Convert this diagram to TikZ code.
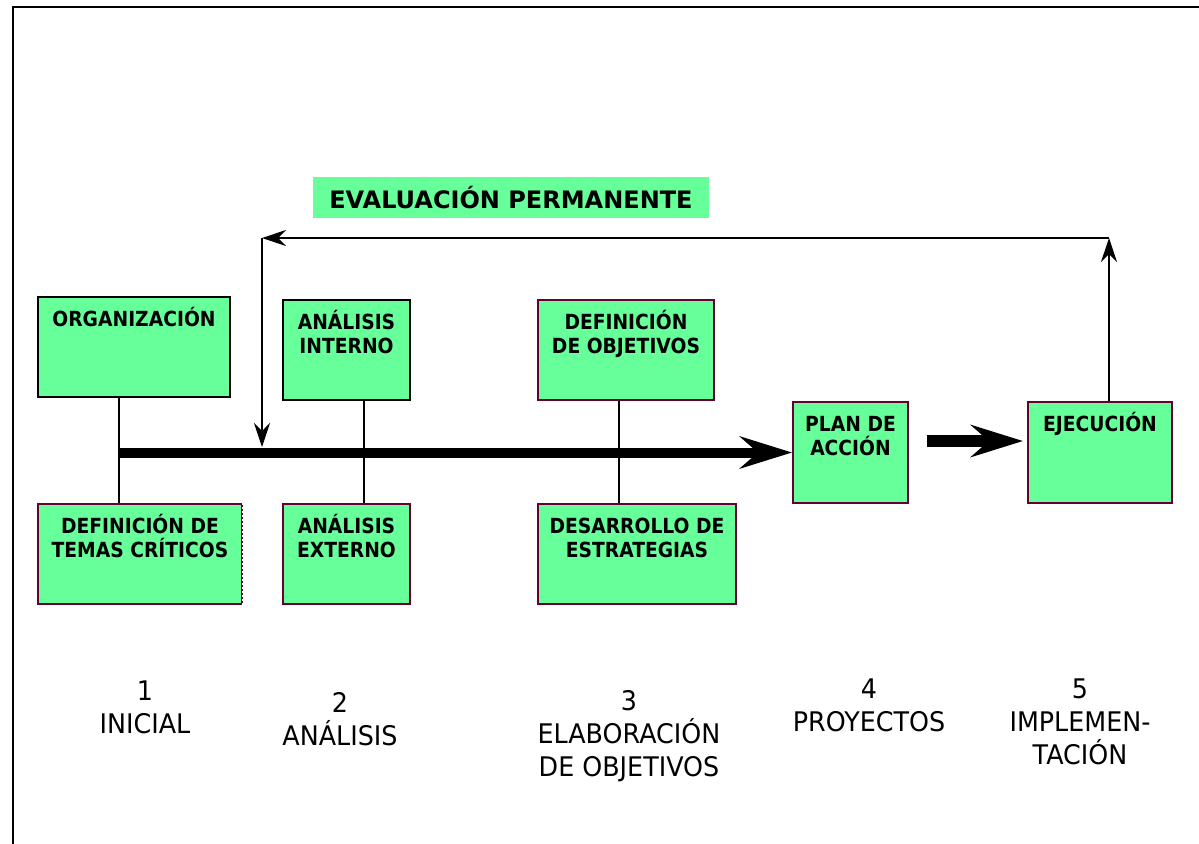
\documentclass[tikz,border=0pt]{standalone}
\usepackage{fontspec}
\setmainfont{DejaVu Sans}
\newfontfamily\boxfont{DejaVu Sans}[FakeStretch=0.9]
\newfontfamily\stagefont{DejaVu Sans}[FakeStretch=0.94]
\usetikzlibrary{arrows.meta,positioning}
\definecolor{boxgreen}{HTML}{66FF99}
\definecolor{boxedge}{HTML}{660033}
\newcommand\tallcap{\vphantom{Á}}

\begin{document}
\begin{tikzpicture}[x=0.5pt, y=-0.5pt,
    phase/.style={rectangle, draw=boxedge, line width=1pt, fill=boxgreen, inner sep=0pt, minimum height=50pt},
    phasetext/.style={align=center, inner sep=0pt, font=\boxfont\fontsize{10.4}{12}\selectfont\bfseries},
    stage/.style={align=center, inner sep=0pt, anchor=north, font=\stagefont\fontsize{13.5}{16.5}\selectfont},
    link/.style={line width=1pt},
    arrow/.style={-{Stealth[length=12pt, width=8pt, inset=4pt]}, line width=1pt},
    flow/.style={-{Stealth[length=26pt, width=16pt, inset=9pt]}, line width=5pt}
]
\useasboundingbox (0,0) rectangle (1199,843);

% Frame
\draw[line width=1pt] (13,7) rectangle (1220,860);

% Title
\node[fill=boxgreen, minimum width=198pt, minimum height=20.5pt, inner sep=0pt, font=\bfseries\fontsize{12}{14}\selectfont] (title) at (511,197.5) {EVALUACIÓN PERMANENTE};

% Phase boxes
\node[phase, draw=black, minimum width=96pt] (org) at (134,347) {};
\node[phase, draw=black, minimum width=63.5pt] (intern) at (346.5,350) {};
\node[phase, minimum width=102pt] (temas) at (140,554) {};
\node[phase, minimum width=63.5pt] (extern) at (346.5,554) {};
\node[phase, minimum width=88pt] (defobj) at (626,350) {};
\node[phase, minimum width=99pt] (estrat) at (637,554) {};
\node[phase, minimum width=57.5pt, minimum height=50.5pt] (plan) at (850.5,452.5) {};
\node[phase, minimum width=72pt, minimum height=50.5pt] (ejec) at (1100,452.5) {};
\draw[white, line width=1pt, dash pattern=on 1pt off 1pt] (temas.north east) -- (temas.south east);

% Box texts
\node[phasetext, below=5.5pt of org.north] (orgtext) {\tallcap ORGANIZACIÓN};
\node[phasetext, below=5.5pt of intern.north] (interntext) {\tallcap ANÁLISIS\\INTERNO};
\node[phasetext, below=5.5pt of temas.north] (temastext) {\tallcap DEFINICIÓN DE\\TEMAS CRÍTICOS};
\node[phasetext, below=5.5pt of extern.north] (externtext) {\tallcap ANÁLISIS\\EXTERNO};
\node[phasetext, below=5.5pt of defobj.north] (defobjtext) {\tallcap DEFINICIÓN\\DE OBJETIVOS};
\node[phasetext, below=5.5pt of estrat.north] (estrattext) {\tallcap DESARROLLO DE\\ESTRATEGIAS};
\node[phasetext, below=5.5pt of plan.north] (plantext) {\tallcap PLAN DE\\ACCIÓN};
\node[phasetext, below=5.5pt of ejec.north] (ejectext) {\tallcap EJECUCIÓN};

% Main axis
\coordinate (c1) at (119,452.5);
\coordinate (c2) at (364,452.5);
\coordinate (c3) at (619,452.5);
\draw[link] (org.south -| c1) -- (temas.north -| c1);
\draw[link] (intern.south -| c2) -- (extern.north -| c2);
\draw[link] (defobj.south -| c3) -- (estrat.north -| c3);
\draw[flow] (c1) -- (plan.west);
\coordinate (p1) at (927,441);
\coordinate (p2) at (1023,441);
\draw[flow, line width=6pt] (p1) -- (p2);

% Feedback loop
\coordinate (fbr) at (1109,238);
\coordinate (fbl) at (262,238);
\coordinate (fbd) at (262,447);
\draw[arrow] (ejec.north -| fbr) -- (fbr);
\draw[arrow] (fbr) -- (fbl);
\draw[arrow] (fbl) -- (fbd);

% Stages
\node[stage] (s1) at (145,680) {1\\INICIAL};
\node[stage] (s2) at (340,692) {2\\ANÁLISIS};
\node[stage] (s3) at (629,690) {3\\ELABORACIÓN\\DE OBJETIVOS};
\node[stage] (s4) at (869,678) {4\\PROYECTOS};
\node[stage] (s5) at (1080,678) {5\\IMPLEMEN-\\TACIÓN};

\end{tikzpicture}
\end{document}
